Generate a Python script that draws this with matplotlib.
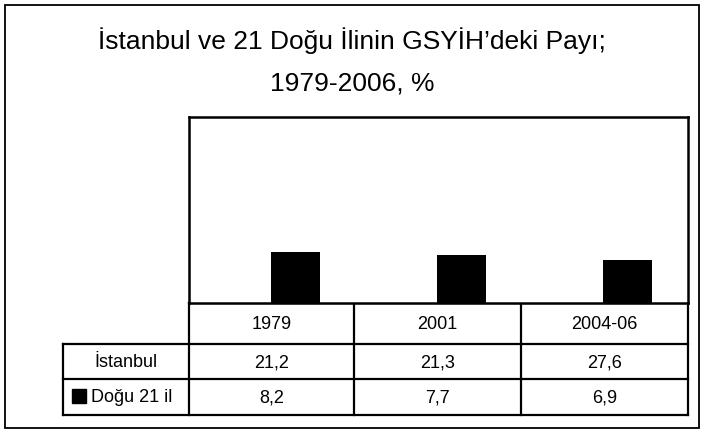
import matplotlib
matplotlib.use("Agg")
import matplotlib.pyplot as plt
from matplotlib.patches import Rectangle

plt.rcParams["font.family"] = ["Liberation Sans", "DejaVu Sans"]

# data
years = ["1979", "2001", "2004-06"]
series = ["İstanbul", "Doğu 21 il"]
istanbul = [21.2, 21.3, 27.6]
dogu = [8.2, 7.7, 6.9]
labels_ist = ["21,2", "21,3", "27,6"]
labels_dogu = ["8,2", "7,7", "6,9"]

W, H = 704, 434
fig = plt.figure(figsize=(W / 100, H / 100), dpi=100)

# overlay in pixel coords for frame, title and table
ov = fig.add_axes([0, 0, 1, 1])
ov.set_xlim(0, W); ov.set_ylim(H, 0); ov.axis("off")
ov.add_patch(Rectangle((5, 5), 694, 423, fill=False, lw=1.3, ec="black"))
ov.text(352, 41, "İstanbul ve 21 Doğu İlinin GSYİH’deki Payı;", ha="center", va="center", fontsize=19)
ov.text(352, 84, "1979-2006, %", ha="center", va="center", fontsize=19)

# plot area
x0, x1, y0, y1 = 189, 688, 117, 303
ax = fig.add_axes([x0 / W, 1 - y1 / H, (x1 - x0) / W, (y1 - y0) / H])
pos = list(range(len(years)))
w = 0.295
ax.bar([p - w / 2 for p in pos], istanbul, width=w, color="white", edgecolor="none")
ax.bar([p + w / 2 - 0.01 for p in pos], dogu, width=w, color="black", edgecolor="none")
ax.set_xlim(-0.5, len(years) - 0.5)
ax.set_ylim(0, 30)
ax.set_xticks([]); ax.set_yticks([])
for s in ax.spines.values():
    s.set_linewidth(1.8)

# data table
cols = [189, 354, 521, 688]
rows = [303, 344, 379, 415]
lw = 1.6
left = 63
ov.plot([cols[0], cols[-1]], [rows[0], rows[0]], color="black", lw=lw)
for r in rows[1:]:
    ov.plot([left, cols[-1]], [r, r], color="black", lw=lw)
for c in cols:
    ov.plot([c, c], [rows[0], rows[-1]], color="black", lw=lw)
ov.plot([left, left], [rows[1], rows[-1]], color="black", lw=lw)

fs = 13
for i, yr in enumerate(years):
    cx = (cols[i] + cols[i + 1]) / 2
    ov.text(cx, (rows[0] + rows[1]) / 2 + 1, yr, ha="center", va="center", fontsize=fs)
    ov.text(cx, (rows[1] + rows[2]) / 2 + 1, labels_ist[i], ha="center", va="center", fontsize=fs)
    ov.text(cx, (rows[2] + rows[3]) / 2 + 1, labels_dogu[i], ha="center", va="center", fontsize=fs)

ov.text((left + cols[0]) / 2, (rows[1] + rows[2]) / 2 + 1, series[0], ha="center", va="center", fontsize=fs)
ov.add_patch(Rectangle((72, 389), 14, 14, color="black"))
ov.text(91, (rows[2] + rows[3]) / 2 + 1, series[1], ha="left", va="center", fontsize=fs)

fig.savefig("out.png", dpi=100)
